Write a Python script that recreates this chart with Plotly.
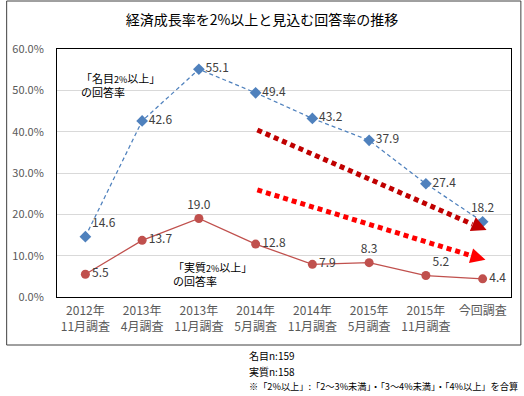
import plotly.graph_objects as go

categories = ["2012年<br>11月調査", "2013年<br>4月調査", "2013年<br>11月調査", "2014年<br>5月調査",
              "2014年<br>11月調査", "2015年<br>5月調査", "2015年<br>11月調査", "今回調査"]
nominal = [14.6, 42.6, 55.1, 49.4, 43.2, 37.9, 27.4, 18.2]
real = [5.5, 13.7, 19.0, 12.8, 7.9, 8.3, 5.2, 4.4]
y_ticks = [0, 10, 20, 30, 40, 50, 60]
y_tick_labels = [f"{v:.1f}%" for v in y_ticks]

nominal_pos = ["top right", "middle right", "middle right", "middle right",
               "middle right", "middle right", "middle right", "top center"]
real_pos = ["middle right", "middle right", "top center", "middle right",
            "middle right", "top center", "top right", "middle right"]

FONT = "Noto Sans CJK JP"
xs = list(range(len(categories)))

fig = go.Figure()
fig.add_trace(go.Scatter(
    x=xs, y=nominal, mode="lines+markers+text",
    line=dict(color="#4F81BD", width=1.25, dash="4px,3px"),
    marker=dict(symbol="diamond", size=9, color="#4F81BD"),
    text=[f"{v:.1f}" for v in nominal], textposition=nominal_pos,
    textfont=dict(family=FONT, size=12, color="#404040"),
    cliponaxis=False, showlegend=False))
fig.add_trace(go.Scatter(
    x=xs, y=real, mode="lines+markers+text",
    line=dict(color="#C0504D", width=1.25),
    marker=dict(symbol="circle", size=9, color="#C0504D"),
    text=[f"{v:.1f}" for v in real], textposition=real_pos,
    textfont=dict(family=FONT, size=12, color="#404040"),
    cliponaxis=False, showlegend=False))

# trend arrows (decorative)
arrows = [
    dict(x0=3.03, y0=40.4, x1=6.82, y1=17.6, tip=(7.07, 16.2), color="#C00000", off=(-14, -6)),
    dict(x0=3.03, y0=25.9, x1=6.80, y1=10.0, tip=(7.05, 9.0), color="#FF0000", off=(-14, -4)),
]
for a in arrows:
    fig.add_shape(type="line", xref="x", yref="y", x0=a["x0"], y0=a["y0"], x1=a["x1"], y1=a["y1"],
                  line=dict(color=a["color"], width=5, dash="5px,4px"))
    fig.add_annotation(x=a["tip"][0], y=a["tip"][1], xref="x", yref="y",
                       ax=a["off"][0], ay=a["off"][1], text="", showarrow=True,
                       arrowhead=2, arrowsize=1, arrowwidth=3, arrowcolor=a["color"])

small = "<span style='font-size:9px'>2%</span>"
fig.add_annotation(x=-0.12, y=55.5, xref="x", yref="y", xanchor="left", yanchor="top", align="left",
                   text=f"「名目{small}以上」<br>の回答率", showarrow=False,
                   font=dict(family=FONT, size=11, color="#000000"))
fig.add_annotation(x=1.5, y=9.6, xref="x", yref="y", xanchor="left", yanchor="top", align="left",
                   text=f"「実質{small}以上」<br>の回答率", showarrow=False,
                   font=dict(family=FONT, size=11, color="#000000"))

# outer chart border
fig.add_shape(type="rect", xref="paper", yref="paper",
              x0=(1 - 52) / 460, x1=(522 - 52) / 460, y0=(297 - 345) / 248, y1=(297 - 1) / 248,
              line=dict(color="#404040", width=1), layer="below")

notes = ["名目n:159", "実質n:158", "※「2%以上」:「2～3%未満」・「3～4%未満」・「4%以上」を合算"]
note_y = [355, 371, 386]
note_size = [10, 10, 9.2]
for t, py, fs in zip(notes, note_y, note_size):
    fig.add_annotation(x=(245 - 52) / 460, y=(297 - py) / 248, xref="paper", yref="paper",
                       xanchor="left", yanchor="middle", text=t, showarrow=False,
                       font=dict(family=FONT, size=fs, color="#000000"))

fig.update_layout(
    width=524, height=396,
    margin=dict(l=52, r=12, t=49, b=99),
    paper_bgcolor="white", plot_bgcolor="white",
    title=dict(text="経済成長率を2%以上と見込む回答率の推移", x=0.5, xanchor="center",
               y=1 - 20 / 396, yanchor="middle", font=dict(family=FONT, size=14, color="#000000")),
    xaxis=dict(range=[-0.5, 7.5], tickvals=xs, ticktext=categories, showgrid=False,
               showline=True, linecolor="#000000", linewidth=1, mirror=True, ticks="",
               ticklabelstandoff=3,
               tickfont=dict(family=FONT, size=12, color="#595959"), zeroline=False),
    yaxis=dict(range=[0, 60], tickvals=y_ticks, ticktext=y_tick_labels,
               showgrid=True, gridcolor="#D9D9D9", gridwidth=1,
               showline=True, linecolor="#000000", linewidth=1, mirror=True, ticks="",
               ticklabelstandoff=10,
               tickfont=dict(family=FONT, size=11, color="#595959"), zeroline=False),
)

fig.write_html("out.html", post_script="document.body.style.margin='0';",
               config={"displayModeBar": False})
